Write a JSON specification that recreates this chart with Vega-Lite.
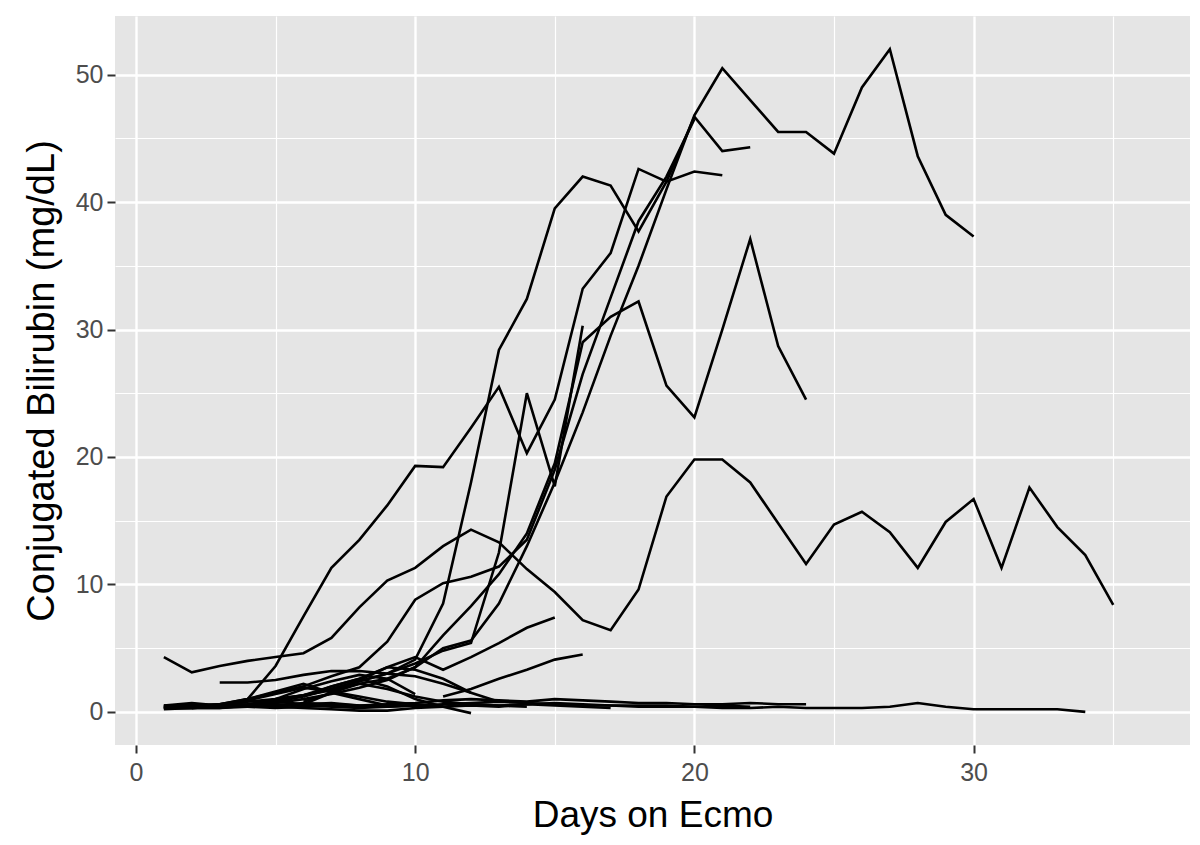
{
  "$schema": "https://vega.github.io/schema/vega-lite/v6.json",
  "autosize": {"type": "none"},
  "padding": {"left": 115, "top": 16, "right": 10, "bottom": 100},
  "width": 1075,
  "height": 729,
  "background": "white",
  "config": {
    "view": {"fill": "#E5E5E5", "stroke": null},
    "font": "Liberation Sans"
  },
  "data": {"values": [
    {"id":"P","day":1,"value":4.3},{"id":"P","day":2,"value":3.1},{"id":"P","day":3,"value":3.6},{"id":"P","day":4,"value":4.0},{"id":"P","day":5,"value":4.3},{"id":"P","day":6,"value":4.6},{"id":"P","day":7,"value":5.8},{"id":"P","day":8,"value":8.2},{"id":"P","day":9,"value":10.3},{"id":"P","day":10,"value":11.3},{"id":"P","day":11,"value":13.0},{"id":"P","day":12,"value":14.3},{"id":"P","day":13,"value":13.3},{"id":"P","day":14,"value":11.2},{"id":"P","day":15,"value":9.4},{"id":"P","day":16,"value":7.2},{"id":"P","day":17,"value":6.4},{"id":"P","day":18,"value":9.6},{"id":"P","day":19,"value":16.9},{"id":"P","day":20,"value":19.8},{"id":"P","day":21,"value":19.8},{"id":"P","day":22,"value":18.0},{"id":"P","day":23,"value":14.8},{"id":"P","day":24,"value":11.6},{"id":"P","day":25,"value":14.7},{"id":"P","day":26,"value":15.7},{"id":"P","day":27,"value":14.1},{"id":"P","day":28,"value":11.3},{"id":"P","day":29,"value":14.9},{"id":"P","day":30,"value":16.7},{"id":"P","day":31,"value":11.3},{"id":"P","day":32,"value":17.6},{"id":"P","day":33,"value":14.5},{"id":"P","day":34,"value":12.3},{"id":"P","day":35,"value":8.4},

    {"id":"E","day":1,"value":0.3},{"id":"E","day":2,"value":0.3},{"id":"E","day":3,"value":0.4},{"id":"E","day":4,"value":1.0},{"id":"E","day":5,"value":3.6},{"id":"E","day":6,"value":7.5},{"id":"E","day":7,"value":11.3},{"id":"E","day":8,"value":13.5},{"id":"E","day":9,"value":16.2},{"id":"E","day":10,"value":19.3},{"id":"E","day":11,"value":19.2},{"id":"E","day":12,"value":22.3},{"id":"E","day":13,"value":25.5},{"id":"E","day":14,"value":20.3},{"id":"E","day":15,"value":24.5},{"id":"E","day":16,"value":33.2},{"id":"E","day":17,"value":36.0},{"id":"E","day":18,"value":42.6},{"id":"E","day":19,"value":41.6},{"id":"E","day":20,"value":42.4},{"id":"E","day":21,"value":42.1},

    {"id":"S","day":1,"value":0.4},{"id":"S","day":2,"value":0.4},{"id":"S","day":3,"value":0.5},{"id":"S","day":4,"value":0.6},{"id":"S","day":5,"value":0.8},{"id":"S","day":6,"value":1.2},{"id":"S","day":7,"value":1.8},{"id":"S","day":8,"value":2.4},{"id":"S","day":9,"value":3.0},{"id":"S","day":10,"value":4.1},{"id":"S","day":11,"value":8.5},{"id":"S","day":12,"value":18.0},{"id":"S","day":13,"value":28.4},{"id":"S","day":14,"value":32.4},{"id":"S","day":15,"value":39.5},{"id":"S","day":16,"value":42.0},{"id":"S","day":17,"value":41.3},{"id":"S","day":18,"value":37.7},{"id":"S","day":19,"value":41.6},{"id":"S","day":20,"value":46.7},{"id":"S","day":21,"value":44.0},{"id":"S","day":22,"value":44.3},

    {"id":"A","day":1,"value":0.5},{"id":"A","day":2,"value":0.5},{"id":"A","day":3,"value":0.6},{"id":"A","day":4,"value":0.8},{"id":"A","day":5,"value":1.0},{"id":"A","day":6,"value":1.3},{"id":"A","day":7,"value":1.7},{"id":"A","day":8,"value":2.2},{"id":"A","day":9,"value":2.6},{"id":"A","day":10,"value":3.5},{"id":"A","day":11,"value":5.0},{"id":"A","day":12,"value":5.6},{"id":"A","day":13,"value":8.5},{"id":"A","day":14,"value":13.0},{"id":"A","day":15,"value":18.0},{"id":"A","day":16,"value":23.5},{"id":"A","day":17,"value":29.5},{"id":"A","day":18,"value":35.0},{"id":"A","day":19,"value":41.0},{"id":"A","day":20,"value":46.8},{"id":"A","day":21,"value":50.5},{"id":"A","day":22,"value":48.0},{"id":"A","day":23,"value":45.5},{"id":"A","day":24,"value":45.5},{"id":"A","day":25,"value":43.8},{"id":"A","day":26,"value":49.0},{"id":"A","day":27,"value":52.0},{"id":"A","day":28,"value":43.6},{"id":"A","day":29,"value":39.0},{"id":"A","day":30,"value":37.3},

    {"id":"B","day":1,"value":0.3},{"id":"B","day":2,"value":0.4},{"id":"B","day":3,"value":0.6},{"id":"B","day":4,"value":1.0},{"id":"B","day":5,"value":1.5},{"id":"B","day":6,"value":2.0},{"id":"B","day":7,"value":2.8},{"id":"B","day":8,"value":3.5},{"id":"B","day":9,"value":5.5},{"id":"B","day":10,"value":8.8},{"id":"B","day":11,"value":10.1},{"id":"B","day":12,"value":10.6},{"id":"B","day":13,"value":11.4},{"id":"B","day":14,"value":13.5},{"id":"B","day":15,"value":19.0},{"id":"B","day":16,"value":26.5},{"id":"B","day":17,"value":32.5},{"id":"B","day":18,"value":38.5},{"id":"B","day":19,"value":42.0},{"id":"B","day":20,"value":46.5},

    {"id":"C","day":1,"value":0.3},{"id":"C","day":2,"value":0.3},{"id":"C","day":3,"value":0.4},{"id":"C","day":4,"value":0.5},{"id":"C","day":5,"value":0.7},{"id":"C","day":6,"value":1.0},{"id":"C","day":7,"value":1.4},{"id":"C","day":8,"value":1.9},{"id":"C","day":9,"value":2.5},{"id":"C","day":10,"value":3.5},{"id":"C","day":11,"value":6.0},{"id":"C","day":12,"value":8.3},{"id":"C","day":13,"value":10.8},{"id":"C","day":14,"value":14.0},{"id":"C","day":15,"value":19.5},{"id":"C","day":16,"value":29.0},{"id":"C","day":17,"value":31.0},{"id":"C","day":18,"value":32.2},{"id":"C","day":19,"value":25.6},{"id":"C","day":20,"value":23.1},{"id":"C","day":21,"value":30.0},{"id":"C","day":22,"value":37.1},{"id":"C","day":23,"value":28.7},{"id":"C","day":24,"value":24.5},

    {"id":"D","day":1,"value":0.4},{"id":"D","day":2,"value":0.5},{"id":"D","day":3,"value":0.5},{"id":"D","day":4,"value":0.6},{"id":"D","day":5,"value":0.9},{"id":"D","day":6,"value":1.3},{"id":"D","day":7,"value":1.8},{"id":"D","day":8,"value":2.4},{"id":"D","day":9,"value":3.0},{"id":"D","day":10,"value":3.8},{"id":"D","day":11,"value":4.8},{"id":"D","day":12,"value":5.4},{"id":"D","day":13,"value":12.5},{"id":"D","day":14,"value":25.0},{"id":"D","day":15,"value":17.7},{"id":"D","day":16,"value":30.3},

    {"id":"L1","day":1,"value":0.3},{"id":"L1","day":2,"value":0.3},{"id":"L1","day":3,"value":0.4},{"id":"L1","day":4,"value":0.4},{"id":"L1","day":5,"value":0.3},{"id":"L1","day":6,"value":0.4},{"id":"L1","day":7,"value":0.5},{"id":"L1","day":8,"value":0.4},{"id":"L1","day":9,"value":0.5},{"id":"L1","day":10,"value":0.5},{"id":"L1","day":11,"value":0.6},{"id":"L1","day":12,"value":0.7},{"id":"L1","day":13,"value":0.8},{"id":"L1","day":14,"value":0.7},{"id":"L1","day":15,"value":0.6},{"id":"L1","day":16,"value":0.5},{"id":"L1","day":17,"value":0.5},{"id":"L1","day":18,"value":0.4},{"id":"L1","day":19,"value":0.4},{"id":"L1","day":20,"value":0.4},{"id":"L1","day":21,"value":0.3},{"id":"L1","day":22,"value":0.3},{"id":"L1","day":23,"value":0.4},{"id":"L1","day":24,"value":0.3},{"id":"L1","day":25,"value":0.3},{"id":"L1","day":26,"value":0.3},{"id":"L1","day":27,"value":0.4},{"id":"L1","day":28,"value":0.7},{"id":"L1","day":29,"value":0.4},{"id":"L1","day":30,"value":0.2},{"id":"L1","day":31,"value":0.2},{"id":"L1","day":32,"value":0.2},{"id":"L1","day":33,"value":0.2},{"id":"L1","day":34,"value":0.0},

    {"id":"L2","day":1,"value":0.5},{"id":"L2","day":2,"value":0.7},{"id":"L2","day":3,"value":0.5},{"id":"L2","day":4,"value":0.6},{"id":"L2","day":5,"value":0.8},{"id":"L2","day":6,"value":0.6},{"id":"L2","day":7,"value":0.7},{"id":"L2","day":8,"value":0.5},{"id":"L2","day":9,"value":0.6},{"id":"L2","day":10,"value":0.7},{"id":"L2","day":11,"value":0.9},{"id":"L2","day":12,"value":1.0},{"id":"L2","day":13,"value":0.9},{"id":"L2","day":14,"value":0.8},{"id":"L2","day":15,"value":1.0},{"id":"L2","day":16,"value":0.9},{"id":"L2","day":17,"value":0.8},{"id":"L2","day":18,"value":0.7},{"id":"L2","day":19,"value":0.7},{"id":"L2","day":20,"value":0.6},{"id":"L2","day":21,"value":0.6},{"id":"L2","day":22,"value":0.7},{"id":"L2","day":23,"value":0.6},{"id":"L2","day":24,"value":0.6},

    {"id":"L3","day":1,"value":0.2},{"id":"L3","day":2,"value":0.3},{"id":"L3","day":3,"value":0.3},{"id":"L3","day":4,"value":0.5},{"id":"L3","day":5,"value":0.6},{"id":"L3","day":6,"value":0.5},{"id":"L3","day":7,"value":0.4},{"id":"L3","day":8,"value":0.3},{"id":"L3","day":9,"value":0.4},{"id":"L3","day":10,"value":0.5},{"id":"L3","day":11,"value":0.4},{"id":"L3","day":12,"value":0.6},{"id":"L3","day":13,"value":0.5},{"id":"L3","day":14,"value":0.6},{"id":"L3","day":15,"value":0.7},{"id":"L3","day":16,"value":0.6},{"id":"L3","day":17,"value":0.5},{"id":"L3","day":18,"value":0.5},{"id":"L3","day":19,"value":0.5},{"id":"L3","day":20,"value":0.4},{"id":"L3","day":21,"value":0.5},{"id":"L3","day":22,"value":0.4},

    {"id":"L4","day":1,"value":0.4},{"id":"L4","day":2,"value":0.4},{"id":"L4","day":3,"value":0.6},{"id":"L4","day":4,"value":0.5},{"id":"L4","day":5,"value":0.4},{"id":"L4","day":6,"value":0.3},{"id":"L4","day":7,"value":0.2},{"id":"L4","day":8,"value":0.1},{"id":"L4","day":9,"value":0.1},{"id":"L4","day":10,"value":0.3},{"id":"L4","day":11,"value":0.4},{"id":"L4","day":12,"value":0.5},{"id":"L4","day":13,"value":0.4},{"id":"L4","day":14,"value":0.6},{"id":"L4","day":15,"value":0.5},{"id":"L4","day":16,"value":0.4},{"id":"L4","day":17,"value":0.3},

    {"id":"L5","day":2,"value":0.3},{"id":"L5","day":3,"value":0.3},{"id":"L5","day":4,"value":0.4},{"id":"L5","day":5,"value":0.5},{"id":"L5","day":6,"value":0.7},{"id":"L5","day":7,"value":0.6},{"id":"L5","day":8,"value":0.5},{"id":"L5","day":9,"value":0.4},{"id":"L5","day":10,"value":0.5},{"id":"L5","day":11,"value":0.4},{"id":"L5","day":12,"value":-0.1},

    {"id":"H1","day":1,"value":0.4},{"id":"H1","day":2,"value":0.6},{"id":"H1","day":3,"value":0.5},{"id":"H1","day":4,"value":0.9},{"id":"H1","day":5,"value":1.4},{"id":"H1","day":6,"value":1.9},{"id":"H1","day":7,"value":1.6},{"id":"H1","day":8,"value":1.2},{"id":"H1","day":9,"value":0.8},{"id":"H1","day":10,"value":0.6},{"id":"H1","day":11,"value":0.5},

    {"id":"H2","day":2,"value":0.3},{"id":"H2","day":3,"value":0.6},{"id":"H2","day":4,"value":1.0},{"id":"H2","day":5,"value":1.6},{"id":"H2","day":6,"value":2.2},{"id":"H2","day":7,"value":1.5},{"id":"H2","day":8,"value":1.0},{"id":"H2","day":9,"value":0.5},

    {"id":"H3","day":4,"value":0.5},{"id":"H3","day":5,"value":1.0},{"id":"H3","day":6,"value":1.3},{"id":"H3","day":7,"value":2.0},{"id":"H3","day":8,"value":2.6},{"id":"H3","day":9,"value":2.0},{"id":"H3","day":10,"value":1.0},{"id":"H3","day":11,"value":0.4},

    {"id":"H4","day":6,"value":0.6},{"id":"H4","day":7,"value":1.5},{"id":"H4","day":8,"value":2.2},{"id":"H4","day":9,"value":1.8},{"id":"H4","day":10,"value":1.2},{"id":"H4","day":11,"value":0.8},{"id":"H4","day":12,"value":0.6},{"id":"H4","day":13,"value":0.5},{"id":"H4","day":14,"value":0.4},

    {"id":"M1","day":6,"value":0.8},{"id":"M1","day":7,"value":1.5},{"id":"M1","day":8,"value":2.5},{"id":"M1","day":9,"value":3.5},{"id":"M1","day":10,"value":4.3},{"id":"M1","day":11,"value":3.3},{"id":"M1","day":12,"value":4.3},{"id":"M1","day":13,"value":5.4},{"id":"M1","day":14,"value":6.6},{"id":"M1","day":15,"value":7.4},

    {"id":"M2","day":11,"value":1.2},{"id":"M2","day":12,"value":1.8},{"id":"M2","day":13,"value":2.6},{"id":"M2","day":14,"value":3.3},{"id":"M2","day":15,"value":4.1},{"id":"M2","day":16,"value":4.5},

    {"id":"M3","day":3,"value":2.3},{"id":"M3","day":4,"value":2.3},{"id":"M3","day":5,"value":2.5},{"id":"M3","day":6,"value":2.9},{"id":"M3","day":7,"value":3.2},{"id":"M3","day":8,"value":3.2},{"id":"M3","day":9,"value":3.0},{"id":"M3","day":10,"value":2.8},{"id":"M3","day":11,"value":2.2},{"id":"M3","day":12,"value":1.5},

    {"id":"M4","day":5,"value":1.0},{"id":"M4","day":6,"value":1.8},{"id":"M4","day":7,"value":2.4},{"id":"M4","day":8,"value":2.9},{"id":"M4","day":9,"value":2.6},{"id":"M4","day":10,"value":1.4},

    {"id":"M5","day":6,"value":1.2},{"id":"M5","day":7,"value":2.0},{"id":"M5","day":8,"value":2.6},{"id":"M5","day":9,"value":3.5},{"id":"M5","day":10,"value":3.3},{"id":"M5","day":11,"value":2.6},{"id":"M5","day":12,"value":1.5},{"id":"M5","day":13,"value":0.8}
  ]},
  "mark": {"type": "line", "color": "#000000", "strokeWidth": 2.6, "clip": true},
  "encoding": {
    "x": {
      "field": "day", "type": "quantitative",
      "scale": {"domain": [-0.75, 37.75], "nice": false, "zero": false},
      "axis": {
        "title": "Days on Ecmo",
        "values": [0, 5, 10, 15, 20, 25, 30, 35],
        "labelExpr": "datum.value % 10 === 0 ? datum.label : ''",
        "domain": false,
        "grid": true,
        "gridColor": "#FFFFFF",
        "gridWidth": {"condition": {"test": "datum.value % 10 === 0", "value": 2.4}, "value": 1.2},
        "tickColor": "#333333",
        "tickWidth": 2,
        "tickSize": 8,
        "tickOpacity": {"condition": {"test": "datum.value % 10 === 0", "value": 1}, "value": 0},
        "labelFont": "Liberation Sans",
        "labelFontSize": 25,
        "labelColor": "#4D4D4D",
        "labelPadding": 7,
        "titleFont": "Liberation Sans",
        "titleFontSize": 37,
        "titleFontWeight": "normal",
        "titleColor": "#000000",
        "titlePadding": 12
      }
    },
    "y": {
      "field": "value", "type": "quantitative",
      "scale": {"domain": [-2.6, 54.6], "nice": false, "zero": false},
      "axis": {
        "title": "Conjugated Bilirubin (mg/dL)",
        "values": [0, 5, 10, 15, 20, 25, 30, 35, 40, 45, 50],
        "labelExpr": "datum.value % 10 === 0 ? datum.label : ''",
        "domain": false,
        "grid": true,
        "gridColor": "#FFFFFF",
        "gridWidth": {"condition": {"test": "datum.value % 10 === 0", "value": 2.4}, "value": 1.2},
        "tickColor": "#333333",
        "tickWidth": 2,
        "tickSize": 8,
        "tickOpacity": {"condition": {"test": "datum.value % 10 === 0", "value": 1}, "value": 0},
        "labelFont": "Liberation Sans",
        "labelFontSize": 25,
        "labelColor": "#4D4D4D",
        "labelPadding": 4,
        "titleFont": "Liberation Sans",
        "titleFontSize": 38,
        "titleFontWeight": "normal",
        "titleColor": "#000000",
        "titlePadding": 14
      }
    },
    "detail": {"field": "id", "type": "nominal"}
  }
}
